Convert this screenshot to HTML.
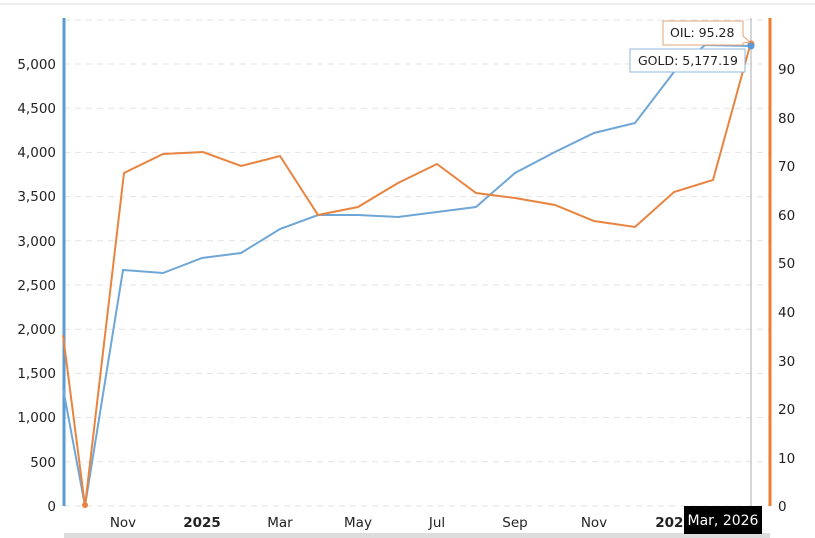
<!DOCTYPE html>
<html><head><meta charset="utf-8"><style>
body{margin:0;background:#fff;}
svg{display:block;font-family:"DejaVu Sans","Liberation Sans",sans-serif;}
</style></head><body>
<svg width="815" height="538" viewBox="0 0 815 538">
<line x1="0" y1="4" x2="815" y2="4" stroke="#eee" stroke-width="2"/>
<g stroke="#e3e3e3" stroke-dasharray="6,5" stroke-width="1">
<line x1="64" y1="20" x2="770" y2="20"/>
<line x1="64" y1="64" x2="770" y2="64"/>
<line x1="64" y1="108.2" x2="770" y2="108.2"/>
<line x1="64" y1="152.4" x2="770" y2="152.4"/>
<line x1="64" y1="196.6" x2="770" y2="196.6"/>
<line x1="64" y1="240.8" x2="770" y2="240.8"/>
<line x1="64" y1="285" x2="770" y2="285"/>
<line x1="64" y1="329.2" x2="770" y2="329.2"/>
<line x1="64" y1="373.4" x2="770" y2="373.4"/>
<line x1="64" y1="417.6" x2="770" y2="417.6"/>
<line x1="64" y1="461.8" x2="770" y2="461.8"/>
<line x1="64" y1="506" x2="770" y2="506"/>
</g>
<line x1="751" y1="18" x2="751" y2="506" stroke="#c8c8c8" stroke-width="1.5"/>
<g font-size="13.5" fill="#222" text-anchor="end">
<text x="56" y="69">5,000</text><text x="56" y="113">4,500</text><text x="56" y="157">4,000</text>
<text x="56" y="201">3,500</text><text x="56" y="246">3,000</text><text x="56" y="290">2,500</text>
<text x="56" y="334">2,000</text><text x="56" y="378">1,500</text><text x="56" y="422">1,000</text>
<text x="56" y="467">500</text><text x="56" y="511">0</text>
</g>
<g font-size="13.5" fill="#222">
<text x="778" y="74">90</text><text x="778" y="123">80</text><text x="778" y="171">70</text>
<text x="778" y="220">60</text><text x="778" y="268">50</text><text x="778" y="317">40</text>
<text x="778" y="366">30</text><text x="778" y="414">20</text><text x="778" y="463">10</text>
<text x="778" y="511">0</text>
</g>
<g font-size="13.5" fill="#222" text-anchor="middle">
<text x="123" y="527">Nov</text><text x="202" y="527" font-weight="bold">2025</text>
<text x="280" y="527">Mar</text><text x="358" y="527">May</text><text x="437" y="527">Jul</text>
<text x="515" y="527">Sep</text><text x="594" y="527">Nov</text><text x="674" y="527" font-weight="bold">2026</text>
</g>
<rect x="64" y="533" width="706" height="5" fill="#ddd"/>
<line x1="64" y1="18" x2="64" y2="506" stroke="#5b9bd5" stroke-width="3"/>
<line x1="770" y1="18" x2="770" y2="506" stroke="#ed7d31" stroke-width="3"/>
<polyline fill="none" stroke="#6fa6d6" stroke-width="2" points="63,388 85,506 123,270 163,273 202,258 241,253 280,229 318,215 358,215 398,217 437,212 476,207 515,173 555,152 594,133 635,123 674,72 705,45 751,46"/>
<polyline fill="none" stroke="#e8843f" stroke-width="2" points="63,335 85,506 124,173 163,154 203,152 241,166 280,156 318,215 358,207 398,183 437,164 476,193 515,198 555,205 594,221 635,227 674,192 713,180 751,42"/>
<circle cx="85" cy="505" r="3" fill="#e8843f"/>
<circle cx="751" cy="44" r="3.5" fill="#e8843f"/>
<circle cx="751" cy="46" r="3.5" fill="#5b9bd5"/>
<g font-size="12.5" fill="#222">
<path d="M663,21 H743 V36 L750,42 L743,43 V45 H663 Z" fill="#fff" stroke="#e3a47a"/>
<text x="670" y="37">OIL: 95.28</text>
<path d="M630,49 H745 V72 H630 Z" fill="#fff" stroke="#8fb8de"/>
<text x="638" y="65">GOLD: 5,177.19</text>
</g>
<rect x="684" y="506" width="78" height="28" fill="#000"/>
<text x="723" y="525" font-size="14" fill="#fff" text-anchor="middle">Mar, 2026</text>
</svg>
</body></html>
